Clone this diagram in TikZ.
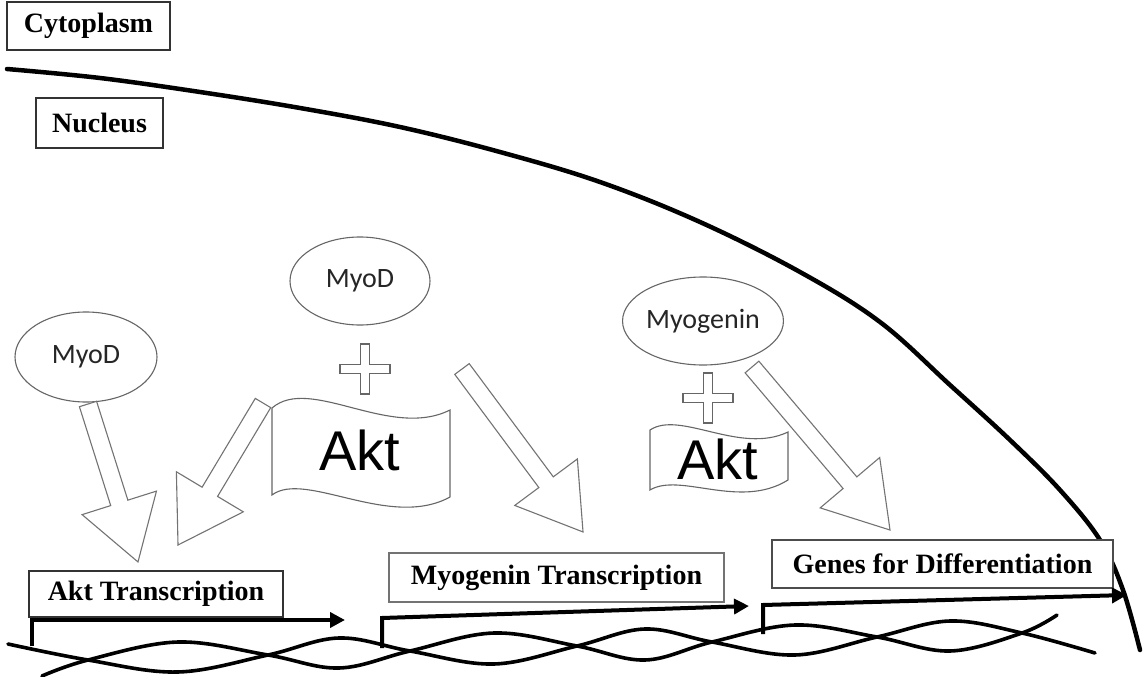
\documentclass[tikz,border=0pt]{standalone}
\usepackage{fontspec}
\setmainfont{Liberation Serif}
\newfontfamily\calfont{Carlito}
\newfontfamily\arfont{Liberation Sans}
\usetikzlibrary{arrows.meta,shapes.geometric}
\newcommand{\blockarr}[3]{%
  \begin{scope}[shift={(#1)}, rotate=#2]
    \draw[blockarrow] (0,-9) -- ({#3-62},-9) -- ({#3-62},-39) -- (#3,0) -- ({#3-62},39) -- ({#3-62},9) -- (0,9) -- cycle;
  \end{scope}}
\newcommand{\plusat}[1]{%
  \begin{scope}[shift={(#1)}]
    \draw[plussign] (-4.5,-25) -- (4.5,-25) -- (4.5,-4.5) -- (25,-4.5) -- (25,4.5) -- (4.5,4.5) -- (4.5,25) -- (-4.5,25) -- (-4.5,4.5) -- (-25,4.5) -- (-25,-4.5) -- (-4.5,-4.5) -- cycle;
  \end{scope}}
\begin{document}
\begin{tikzpicture}[x=1pt,y=-1pt,
  labelbox/.style={draw=black!80, line width=1.4pt, fill=white, inner sep=0pt,
    font=\fontsize{28}{30}\selectfont\bfseries},
  protein/.style={ellipse, draw=black!60, line width=1.1pt, fill=white, inner sep=0pt,
    font=\calfont\fontsize{28}{30}\selectfont, text=black!85},
  blockarrow/.style={draw=black!55, line width=1.1pt, fill=white, line join=miter},
  plussign/.style={draw=black!60, line width=1.1pt, fill=white},
  flag/.style={draw=black!60, line width=1.1pt, fill=white},
  akttext/.style={font=\arfont\fontsize{56}{60}\selectfont, inner sep=0pt},
  membrane/.style={line width=4.5pt, line cap=round, line join=round},
  strand/.style={line width=3.6pt, line cap=round},
  tss/.style={line width=4pt, -{Triangle[length=15pt,width=15pt]}}
]
\useasboundingbox (0,0) rectangle (1144,677);

% nuclear membrane
\draw[membrane] plot[smooth, tension=0.6] coordinates {(7,69) (100,78) (200,92) (300,108) (400,127) (500,152) (600,182) (700,222) (800,272) (880,322) (950,385) (1010,440) (1060,490) (1100,540) (1123,590) (1140,650)};

% DNA double helix
\draw[strand] plot[smooth, tension=0.6] coordinates {(8,644) (88,660) (178,672) (268,655) (339,638) (410,651) (494,664) (577,646) (645,629) (712,642) (795,655) (877,637) (950,621) (1022,633) (1095,653)};
\draw[strand] plot[smooth, tension=0.6] coordinates {(42,676) (88,660) (178,642) (268,655) (339,668) (410,651) (494,633) (577,646) (645,660) (712,642) (795,625) (877,637) (950,651) (1022,633) (1057,615)};

% transcription start arrows
\coordinate (tss1b) at (32,646);
\coordinate (tss1t) at (32,620);
\coordinate (tss1e) at (345,620);
\coordinate (tss2b) at (382,648);
\coordinate (tss2t) at (382,618);
\coordinate (tss2e) at (749,606);
\coordinate (tss3b) at (763,634);
\coordinate (tss3t) at (763,605);
\coordinate (tss3e) at (1127,595);

% labelled boxes
\node[labelbox, minimum width=163pt, minimum height=48pt] (cyto) at (88.5,26) {Cytoplasm};
\node[labelbox, minimum width=127pt, minimum height=50pt] (nuc) at (99.5,123) {Nucleus};
\node[labelbox, minimum width=254pt, minimum height=46pt] (aktT) at (156,594) {Akt Transcription};
\node[labelbox, draw=black!55, minimum width=335pt, minimum height=49pt] (myoT) at (556.5,577.5) {Myogenin Transcription};
\node[labelbox, draw=black!70, minimum width=341pt, minimum height=48pt] (genes) at (942.5,564) {Genes for Differentiation};

\draw[tss, line join=miter] (tss1b) -- (tss1t) -- (tss1e);
\draw[tss, line join=miter] (tss2b) -- (tss2t) -- (tss2e);
\draw[tss, line join=miter] (tss3b) -- (tss3t) -- (tss3e);

% proteins
\node[protein, minimum width=142pt, minimum height=90pt] (myod1) at (86,357) {MyoD};
\node[protein, minimum width=140pt, minimum height=88pt] (myod2) at (360,281) {MyoD};
\node[protein, minimum width=130pt, minimum height=88pt] (myog) at (703,321) {Myogenin};

% block arrows
\coordinate (a1s) at (88,404);
\coordinate (a2s) at (263,403);
\coordinate (a3s) at (462,369);
\coordinate (a4s) at (752,367);
\blockarr{a1s}{-72.44}{165.7}
\blockarr{a2s}{-120.9}{165.5}
\blockarr{a3s}{-53.4}{203}
\blockarr{a4s}{-49.75}{213.6}

% Akt flags
\draw[flag] (272,408) .. controls (310,375) and (390,440) .. (450,410) -- (450,497)
  .. controls (390,530) and (305,470) .. (272,495) -- cycle;
\node[akttext] (akt1) at (360,450) {Akt};
\draw[flag] (650,430) .. controls (680,410) and (740,455) .. (788,432) -- (788,480)
  .. controls (740,510) and (680,472) .. (650,490) -- cycle;
\node[akttext] (akt2) at (718,459) {Akt};

% plus signs
\plusat{365,369}
\plusat{708,398}
\end{tikzpicture}
\end{document}
